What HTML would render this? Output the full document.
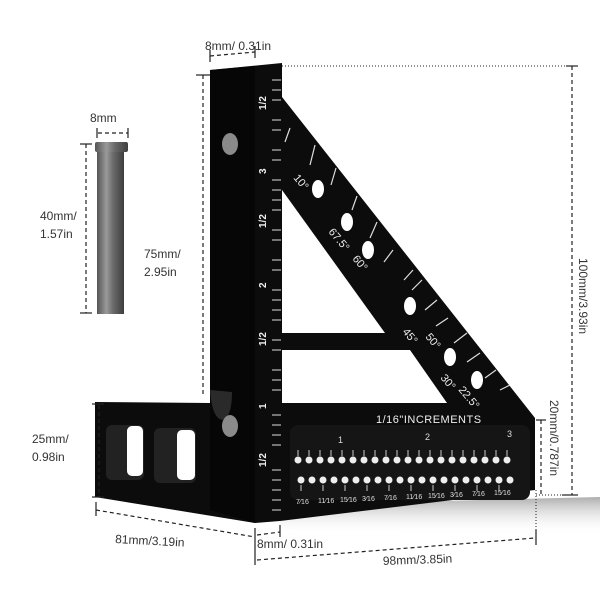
<!DOCTYPE html>
<html><head><style>
html,body{margin:0;padding:0;background:#fff;}
svg{display:block;font-family:"Liberation Sans",sans-serif;}
</style></head><body>
<svg width="600" height="600" viewBox="0 0 600 600">
<defs>
<linearGradient id="pin" x1="0" x2="1">
<stop offset="0" stop-color="#555"/><stop offset="0.35" stop-color="#9a9a9a"/><stop offset="0.6" stop-color="#6a6a6a"/><stop offset="1" stop-color="#3e3e3e"/>
</linearGradient>
<linearGradient id="shadow" x1="0" y1="0" x2="0" y2="1">
<stop offset="0" stop-color="#999"/><stop offset="1" stop-color="#fff" stop-opacity="0"/>
</linearGradient>
</defs>
<polygon points="280,505 600,497 600,535 280,530" fill="url(#shadow)" opacity="0.8"/>
<rect x="97" y="150" width="27" height="164" fill="url(#pin)"/>
<rect x="95" y="142" width="33" height="10" rx="2" fill="url(#pin)"/>
<polygon points="210,70 282,63 282,97 535,418 535,490 280,521 255,523 95,497 95,402 210,403" fill="#0c0c0c"/>
<polygon points="210,70 255,66 255,523 210,510" fill="#060606"/>
<polygon points="282,190 282,333 385,333" fill="#fff"/>
<polygon points="282,350 410,350 447,403 282,403" fill="#fff"/>
<rect x="106" y="425" width="38" height="55" rx="6" fill="#222"/>
<rect x="127" y="426" width="16" height="50" rx="5" fill="#fff"/>
<rect x="154" y="428" width="42" height="55" rx="6" fill="#222"/>
<rect x="177" y="430" width="18" height="50" rx="5" fill="#fff"/>
<path d="M210,390 Q212,418 222,420 Q232,418 232,392Z" fill="#2a2a2a"/>
<ellipse cx="230" cy="144" rx="8" ry="11" fill="#8a8a8a"/>
<ellipse cx="230" cy="426" rx="8" ry="11" fill="#8a8a8a"/>
<rect x="290" y="425" width="240" height="75" rx="8" fill="#151515"/>
<g stroke="#ddd" stroke-width="1">
<line x1="272" y1="80" x2="281" y2="80"/><line x1="272" y1="90" x2="281" y2="90"/><line x1="272" y1="100" x2="281" y2="100"/><line x1="272" y1="120" x2="281" y2="120"/><line x1="272" y1="130" x2="281" y2="130"/><line x1="272" y1="150" x2="281" y2="150"/><line x1="272" y1="160" x2="281" y2="160"/><line x1="272" y1="180" x2="281" y2="180"/><line x1="272" y1="190" x2="281" y2="190"/><line x1="272" y1="200" x2="281" y2="200"/><line x1="272" y1="210" x2="281" y2="210"/><line x1="272" y1="230" x2="281" y2="230"/><line x1="272" y1="240" x2="281" y2="240"/><line x1="272" y1="260" x2="281" y2="260"/><line x1="272" y1="270" x2="281" y2="270"/><line x1="272" y1="290" x2="281" y2="290"/><line x1="272" y1="300" x2="281" y2="300"/><line x1="272" y1="310" x2="281" y2="310"/><line x1="272" y1="320" x2="281" y2="320"/><line x1="272" y1="340" x2="281" y2="340"/><line x1="272" y1="350" x2="281" y2="350"/><line x1="272" y1="370" x2="281" y2="370"/><line x1="272" y1="380" x2="281" y2="380"/><line x1="272" y1="390" x2="281" y2="390"/><line x1="272" y1="415" x2="281" y2="415"/><line x1="272" y1="425" x2="281" y2="425"/><line x1="272" y1="435" x2="281" y2="435"/><line x1="272" y1="445" x2="281" y2="445"/><line x1="272" y1="470" x2="281" y2="470"/><line x1="272" y1="480" x2="281" y2="480"/><line x1="272" y1="490" x2="281" y2="490"/><line x1="272" y1="500" x2="281" y2="500"/><line x1="272" y1="510" x2="281" y2="510"/>
</g>
<g fill="#eee" font-size="10" font-weight="bold">
<text transform="translate(266,110) rotate(-90)">1/2</text>
<text transform="translate(266,174) rotate(-90)">3</text>
<text transform="translate(266,228) rotate(-90)">1/2</text>
<text transform="translate(266,288) rotate(-90)">2</text>
<text transform="translate(266,346) rotate(-90)">1/2</text>
<text transform="translate(266,409) rotate(-90)">1</text>
<text transform="translate(266,467) rotate(-90)">1/2</text>
</g>
<g stroke="#ddd" stroke-width="1.2">
<line x1="290" y1="128" x2="285" y2="142"/><line x1="315" y1="145" x2="310" y2="165"/><line x1="336" y1="168" x2="331" y2="185"/><line x1="357" y1="196" x2="352" y2="210"/><line x1="377" y1="222" x2="370" y2="238"/><line x1="393" y1="250" x2="384" y2="262"/><line x1="413" y1="270" x2="404" y2="280"/><line x1="422" y1="280" x2="412" y2="290"/><line x1="437" y1="300" x2="425" y2="310"/><line x1="448" y1="318" x2="436" y2="326"/><line x1="467" y1="333" x2="454" y2="343"/><line x1="480" y1="353" x2="467" y2="362"/><line x1="496" y1="370" x2="485" y2="378"/><line x1="510" y1="385" x2="500" y2="390"/>
</g>
<g fill="#fff">
<ellipse cx="318" cy="189" rx="6" ry="9"/><ellipse cx="347" cy="222" rx="6" ry="9"/><ellipse cx="368" cy="250" rx="6" ry="9"/><ellipse cx="410" cy="306" rx="6" ry="9"/><ellipse cx="450" cy="357" rx="6" ry="9"/><ellipse cx="477" cy="380" rx="6" ry="9"/>
</g>
<g fill="#eee" font-size="11">
<text transform="translate(293,178) rotate(50)">10°</text>
<text transform="translate(328,232) rotate(50)">67.5°</text>
<text transform="translate(352,259) rotate(50)">60°</text>
<text transform="translate(402,332) rotate(50)">45°</text>
<text transform="translate(425,337) rotate(50)">50°</text>
<text transform="translate(440,378) rotate(50)">30°</text>
<text transform="translate(458,390) rotate(50)">22.5°</text>
</g>
<text x="376" y="423" fill="#eee" font-size="11" letter-spacing="0.5">1/16"INCREMENTS</text>
<g fill="#eee" stroke="none">
<g id="row1">
<circle cx="298" cy="460" r="3.5"/><circle cx="309" cy="460" r="3.5"/><circle cx="320" cy="460" r="3.5"/><circle cx="331" cy="460" r="3.5"/><circle cx="342" cy="460" r="3.5"/><circle cx="353" cy="460" r="3.5"/><circle cx="364" cy="460" r="3.5"/><circle cx="375" cy="460" r="3.5"/><circle cx="386" cy="460" r="3.5"/><circle cx="397" cy="460" r="3.5"/><circle cx="408" cy="460" r="3.5"/><circle cx="419" cy="460" r="3.5"/><circle cx="430" cy="460" r="3.5"/><circle cx="441" cy="460" r="3.5"/><circle cx="452" cy="460" r="3.5"/><circle cx="463" cy="460" r="3.5"/><circle cx="474" cy="460" r="3.5"/><circle cx="485" cy="460" r="3.5"/><circle cx="496" cy="460" r="3.5"/><circle cx="507" cy="460" r="3.5"/>
</g>
<use href="#row1" x="3" y="20"/>
</g>
<g stroke="#ccc" stroke-width="1">
<path d="M298,450v6M309,450v6M320,450v6M331,450v6M342,450v6M353,450v6M364,450v6M375,450v6M386,450v6M397,450v6M408,450v6M419,450v6M430,450v6M441,450v6M452,450v6M463,450v6M474,450v6M485,450v6M496,450v6M507,450v6"/>
<path d="M301,485v6M323,485v6M345,485v6M367,485v6M389,485v6M411,485v6M433,485v6M455,485v6M477,485v6M499,485v6"/>
</g>
<g fill="#ddd" font-size="9">
<text x="338" y="443">1</text><text x="425" y="440">2</text><text x="507" y="437">3</text>
<text x="296" y="504" font-size="7">7⁄16</text><text x="318" y="503" font-size="7">11⁄16</text><text x="340" y="502" font-size="7">15⁄16</text><text x="362" y="501" font-size="7">3⁄16</text><text x="384" y="500" font-size="7">7⁄16</text><text x="406" y="499" font-size="7">11⁄16</text><text x="428" y="498" font-size="7">15⁄16</text><text x="450" y="497" font-size="7">3⁄16</text><text x="472" y="496" font-size="7">7⁄16</text><text x="494" y="495" font-size="7">15⁄16</text>
</g>
<g stroke="#222" stroke-width="1.2" fill="none" stroke-dasharray="4,3">
<line x1="86" y1="144" x2="86" y2="313"/>
<line x1="98" y1="133" x2="128" y2="133"/>
<line x1="203" y1="75" x2="203" y2="395"/>
<line x1="210" y1="56" x2="255" y2="52"/>
<line x1="99" y1="405" x2="99" y2="497"/>
<line x1="96" y1="510" x2="255" y2="537"/>
<line x1="257" y1="535" x2="280" y2="532"/>
<line x1="257" y1="560" x2="535" y2="538"/>
<line x1="572" y1="66" x2="572" y2="495"/>
<line x1="541" y1="420" x2="541" y2="495"/>
</g>
<g stroke="#222" stroke-width="1" fill="none" stroke-dasharray="1,2">
<line x1="282" y1="66" x2="575" y2="66"/>
<line x1="536" y1="495" x2="575" y2="495"/>
<line x1="536" y1="490" x2="536" y2="545"/>
</g>
<g stroke="#222" stroke-width="1.2">
<line x1="80" y1="144" x2="92" y2="144"/><line x1="80" y1="313" x2="92" y2="313"/>
<line x1="97" y1="128" x2="97" y2="138"/><line x1="128" y1="128" x2="128" y2="138"/>
<line x1="196" y1="75" x2="210" y2="75"/>
<line x1="210" y1="50" x2="210" y2="62"/><line x1="255" y1="46" x2="255" y2="58"/>
<line x1="92" y1="404" x2="104" y2="404"/><line x1="92" y1="497" x2="104" y2="497"/>
<line x1="96" y1="502" x2="96" y2="516"/><line x1="255" y1="528" x2="255" y2="565"/><line x1="280" y1="525" x2="280" y2="537"/>
<line x1="536" y1="530" x2="536" y2="545"/>
<line x1="566" y1="66" x2="578" y2="66"/><line x1="562" y1="495" x2="578" y2="495"/>
<line x1="536" y1="420" x2="546" y2="420"/>
</g>
<g fill="#333" font-size="12">
<text x="90" y="122">8mm</text>
<text x="40" y="220">40mm/</text><text x="40" y="238">1.57in</text>
<text x="144" y="258">75mm/</text><text x="144" y="276">2.95in</text>
<text x="205" y="50">8mm/ 0.31in</text>
<text x="32" y="443">25mm/</text><text x="32" y="461">0.98in</text>
<text x="115" y="543" transform="rotate(3,115,543)">81mm/3.19in</text>
<text x="257" y="548">8mm/ 0.31in</text>
<text x="383" y="565" transform="rotate(-2,383,565)">98mm/3.85in</text>
<text transform="translate(579,258) rotate(90)">100mm/3.93in</text>
<text transform="translate(550,400) rotate(90)">20mm/0.787in</text>
</g>
</svg>
</body></html>
